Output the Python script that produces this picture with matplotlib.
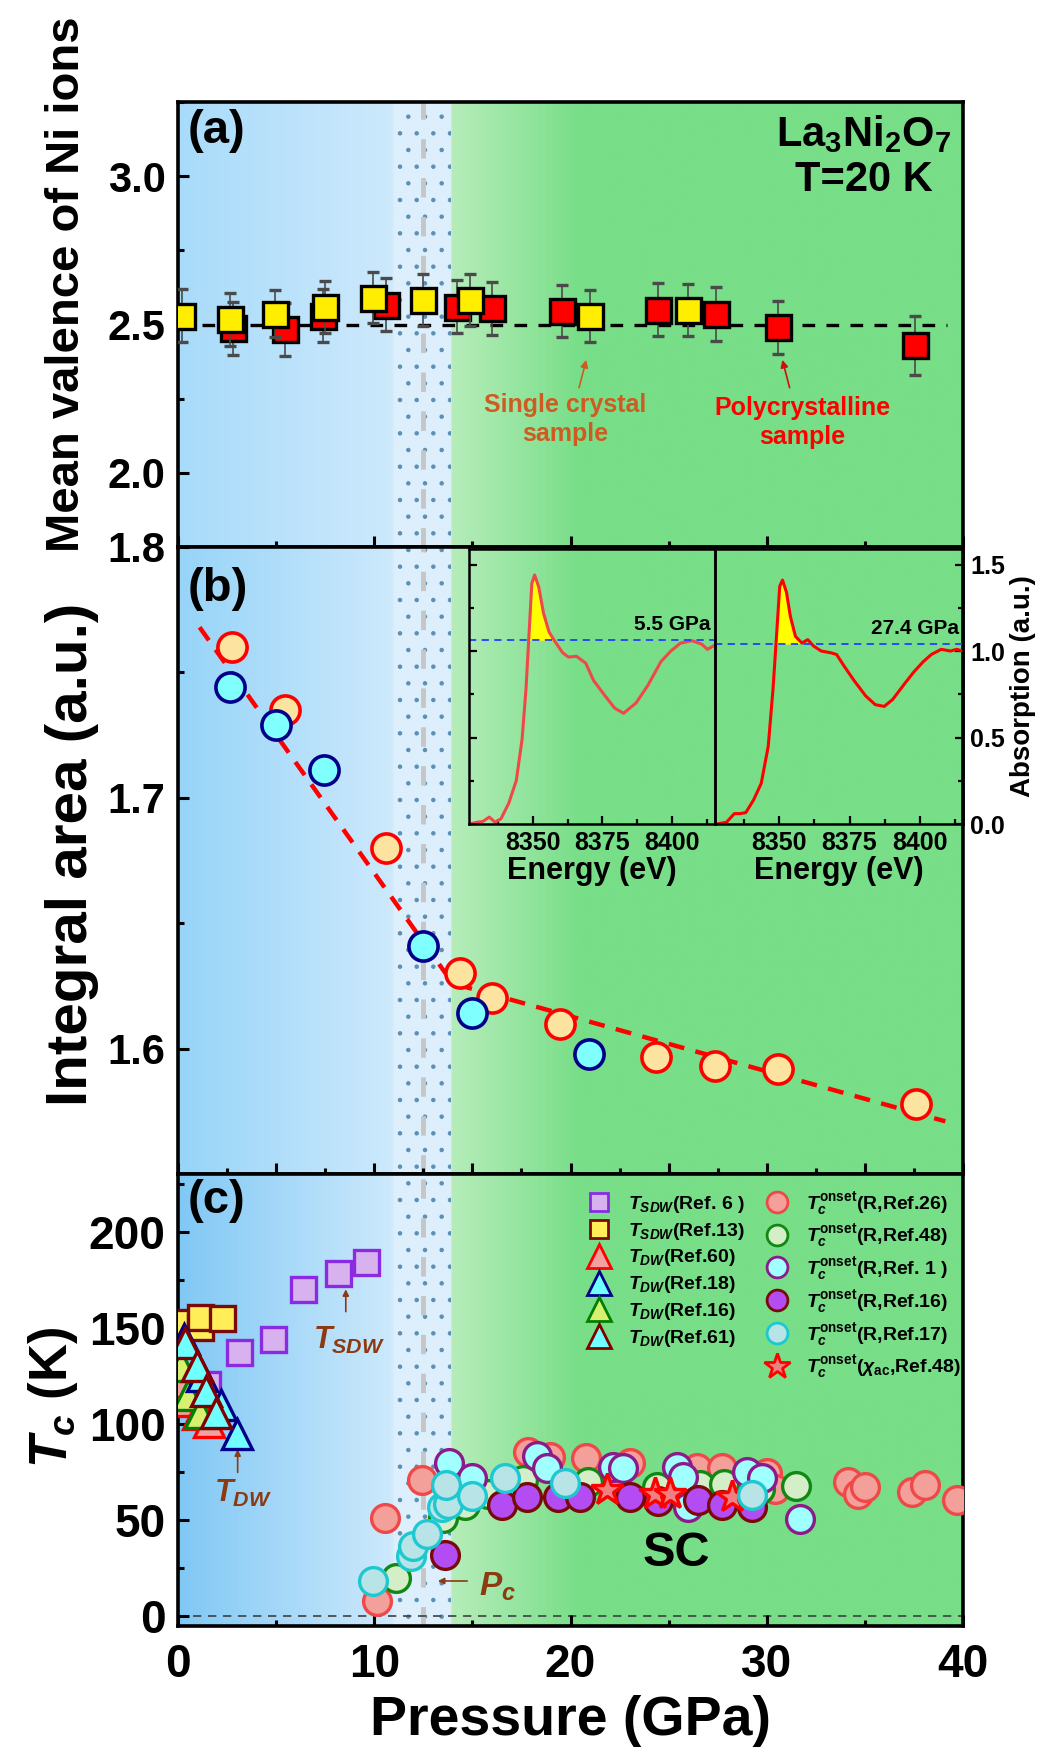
import numpy as np
import matplotlib
matplotlib.use("Agg")
import matplotlib.pyplot as plt
from matplotlib.lines import Line2D
from matplotlib.ticker import MultipleLocator

plt.rcParams['font.family'] = ['Liberation Sans', 'DejaVu Sans']
plt.rcParams['font.weight'] = 'bold'
plt.rcParams['axes.labelweight'] = 'bold'
plt.rcParams['mathtext.fontset'] = 'custom'
plt.rcParams['mathtext.rm'] = 'Liberation Sans:bold'
plt.rcParams['mathtext.it'] = 'Liberation Sans:italic:bold'
plt.rcParams['mathtext.bf'] = 'Liberation Sans:bold'
plt.rcParams['mathtext.sf'] = 'Liberation Sans:bold'
plt.rcParams['hatch.linewidth'] = 0.8

# ---------------- (a) mean valence of Ni, T = 20 K
p_single = [0.2, 2.65, 4.96, 7.49, 9.95, 12.47, 14.9, 21.0, 26.0]
v_single = [2.53, 2.517, 2.537, 2.56, 2.59, 2.582, 2.582, 2.528, 2.55]
e_single = [0.09, 0.09, 0.08, 0.087, 0.086, 0.088, 0.088, 0.088, 0.088]
p_poly = [2.8, 5.45, 7.4, 10.6, 14.2, 16.0, 19.55, 24.45, 27.4, 30.56, 37.55]
v_poly = [2.487, 2.484, 2.53, 2.567, 2.56, 2.554, 2.546, 2.55, 2.537, 2.49, 2.43]
e_poly = [0.09, 0.09, 0.09, 0.089, 0.089, 0.089, 0.088, 0.09, 0.091, 0.088, 0.1]

# ---------------- (b) integral area of the white line
p_area1 = [2.76, 5.46, 10.58, 14.37, 15.98, 19.47, 24.36, 27.36, 30.56, 37.6]
a_area1 = [1.760, 1.735, 1.680, 1.630, 1.620, 1.610, 1.5965, 1.593, 1.5917, 1.578]
p_area2 = [2.65, 4.97, 7.42, 12.47, 14.96, 20.96]
a_area2 = [1.744, 1.729, 1.711, 1.641, 1.614, 1.598]
p_fit = [1.1, 14.0, 39.1]
a_fit = [1.768, 1.626, 1.571]

# inset XANES spectra
e_55 = [8327, 8330, 8332, 8334.3, 8336.4, 8338.5, 8341.3, 8344, 8346.1, 8347.5,
        8348.5, 8349.6, 8350.6, 8352.1, 8353.8, 8355.8, 8357.9, 8360.7, 8362.8,
        8365.6, 8369, 8371.8, 8376, 8379.4, 8382.6, 8387.1, 8391.3, 8396.1,
        8399.6, 8403.1, 8407.2, 8410.7, 8412.8, 8415]
mu_55 = [0.0, 0.01, 0.015, 0.04, 0.01, 0.03, 0.12, 0.25, 0.49, 0.78, 1.07, 1.39,
         1.44, 1.37, 1.22, 1.11, 1.056, 0.99, 0.965, 0.97, 0.93, 0.83, 0.74, 0.67,
         0.64, 0.70, 0.80, 0.94, 1.0, 1.046, 1.06, 1.04, 1.01, 1.03]
e_274 = [8327.7, 8331.1, 8333.9, 8336, 8338, 8340.8, 8343.5, 8346, 8347.7, 8348.8,
         8350.1, 8351.1, 8352.5, 8353.9, 8355.7, 8358, 8360.1, 8362.1, 8364.9,
         8368.3, 8370.4, 8373.2, 8376.6, 8380.8, 8384.2, 8387.4, 8390.4, 8394.6,
         8398, 8401.4, 8404.2, 8407.7, 8411.1, 8413.2, 8415.5]
mu_274 = [0.0, 0.01, 0.06, 0.06, 0.066, 0.14, 0.235, 0.45, 0.78, 1.05, 1.375, 1.41,
          1.34, 1.2, 1.085, 1.046, 1.066, 1.03, 1.0, 0.99, 0.98, 0.91, 0.83, 0.74,
          0.69, 0.68, 0.72, 0.81, 0.88, 0.94, 0.98, 1.01, 1.0, 1.01, 1.0]
level_55 = 1.062
level_274 = 1.04

# ---------------- (c) phase diagram
p_sdw6 = [1.5, 3.1, 4.84, 6.37, 8.15, 9.6]
t_sdw6 = [121, 137.7, 144, 170.4, 178.3, 184.3]
p_sdw13 = [0.17, 1.1, 1.1, 2.26]
t_sdw13 = [153, 150.4, 155.6, 155]
p_dw60 = [0.15, 0.5, 1.0, 1.6]
t_dw60 = [122, 112, 105, 101]
p_dw18 = [0.3, 1.2, 2.2, 3.0]
t_dw18 = [144, 125, 110, 95]
p_dw16 = [0.15, 0.5, 1.1]
t_dw16 = [130, 115, 106]
p_dw61 = [0.35, 0.95, 1.45, 1.95]
t_dw61 = [142, 130, 117, 106]

p_r26 = [10.16, 10.55, 12.45, 17.85, 18.96, 20.79, 23.03, 26.43, 27.7, 30.0, 30.4,
         34.16, 34.67, 35.0, 37.38, 38.06, 39.68]
t_r26 = [7.9, 51, 70.8, 85.3, 83, 82.2, 80, 76.9, 77.3, 74.3, 66.4, 69.9, 63.8,
         67.3, 64.7, 68.2, 60.3]
p_r48 = [11.1, 13.5, 14.6, 15.8, 17.6, 20.9, 24.39, 26.6, 27.8, 29.65, 31.49]
t_r48 = [20.1, 51, 58, 63.8, 70.8, 70, 67.3, 68.2, 69, 66.4, 67.8]
p_r1 = [13.82, 14.96, 18.27, 18.78, 22.18, 22.66, 25.41, 25.75, 26.0, 28.98, 29.74, 31.7]
t_r1 = [79.5, 71.7, 83.6, 77.3, 77.8, 77.3, 77.8, 72.6, 56.8, 75.2, 71.7, 50.7]
p_r16 = [13.6, 16.5, 17.8, 19.38, 20.49, 23.03, 24.48, 26.5, 27.7, 29.23]
t_r16 = [31.8, 58, 62, 62, 62, 62, 59.8, 60.3, 57.7, 56.8]
p_r17 = [9.95, 11.86, 11.96, 12.67, 13.44, 13.77, 13.66, 14.96, 16.66, 19.72, 29.23]
t_r17 = [18.4, 31.5, 36.7, 42.8, 56.8, 58.6, 68.5, 62.6, 71.7, 69.6, 62.9]
p_chi48 = [21.88, 24.3, 25.07, 28.21]
t_chi48 = [65.6, 63.8, 63.8, 62]

labels_left = [r'$T_{SDW}$(Ref. 6 )', r'$T_{SDW}$(Ref.13)', r'$T_{DW}$(Ref.60)',
               r'$T_{DW}$(Ref.18)', r'$T_{DW}$(Ref.16)', r'$T_{DW}$(Ref.61)']
labels_right = [r'$T_c^{\mathrm{onset}}$(R,Ref.26)', r'$T_c^{\mathrm{onset}}$(R,Ref.48)',
                r'$T_c^{\mathrm{onset}}$(R,Ref. 1 )', r'$T_c^{\mathrm{onset}}$(R,Ref.16)',
                r'$T_c^{\mathrm{onset}}$(R,Ref.17)',
                r'$T_c^{\mathrm{onset}}$($\chi_{\mathrm{ac}}$,Ref.48)']

# ---------------- figure
W, H = 1044, 1753
fig = plt.figure(figsize=(W / 100, H / 100), dpi=100)
L, WD = 178 / W, 785 / W
axa = fig.add_axes([L, 1 - 547 / H, WD, (547 - 102) / H])
axb = fig.add_axes([L, 1 - 1174 / H, WD, (1174 - 547) / H])
axc = fig.add_axes([L, 1 - 1626 / H, WD, (1626 - 1174) / H])

brown = '#8b3a12'


def background(ax, left_rgb, ylo, yhi):
    p = np.linspace(0, 40, 1200)
    sp = [0, 10.9, 11.0, 13.9, 13.95, 20.5, 40]
    cols = [left_rgb, (205, 233, 252), (221, 239, 252), (221, 239, 252),
            (182, 237, 186), (120, 222, 136), (120, 222, 136)]
    rgb = np.stack([np.interp(p, sp, [c[i] for c in cols]) for i in range(3)], axis=-1) / 255
    ax.imshow(rgb[np.newaxis], extent=[0, 40, ylo, yhi], aspect='auto',
              zorder=0, interpolation='bilinear')
    ax.axvspan(11.0, 13.9, facecolor='none', edgecolor='#5a90b4', hatch='.',
               lw=0, zorder=0.5)
    ax.axvline(12.5, color='#c6c6c6', lw=3.5, ls=(0, (4, 4)), zorder=0.6)
    ax.set_xlim(0, 40)
    ax.set_ylim(ylo, yhi)


def style(ax, lsize=30):
    for s in ax.spines.values():
        s.set_linewidth(2.6)
    ax.tick_params(which='both', direction='in', top=False, right=False, width=2.2,
                   labelsize=lsize, pad=9)
    ax.tick_params(which='major', length=8)
    ax.tick_params(which='minor', length=4.5)


# ---- (a)
background(axa, (168, 219, 250), 1.75, 3.25)
axa.axhline(2.5, xmax=0.98, color='k', lw=2.4, ls=(0, (3.8, 3.4)), zorder=1)
axa.errorbar(p_poly, v_poly, yerr=e_poly, fmt='s', ms=18, mfc='red', mec='k', mew=2.4,
             ecolor='#4a4a4a', elinewidth=1.2, capsize=4, capthick=1.2, zorder=3)
axa.errorbar(p_single, v_single, yerr=e_single, fmt='s', ms=18, mfc='#ffee00', mec='k',
             mew=2.4, ecolor='#4a4a4a', elinewidth=1.2, capsize=4, capthick=1.2, zorder=4)
style(axa)
axa.xaxis.set_major_locator(MultipleLocator(10))
axa.xaxis.set_minor_locator(MultipleLocator(5))
axa.set_xticklabels([])
axa.set_yticks([2.0, 2.5, 3.0])
axa.yaxis.set_minor_locator(MultipleLocator(0.25))
axa.set_ylabel('Mean valence of Ni ions', fontsize=34)
axa.yaxis.set_label_coords(-0.113, 0.59)
axa.text(0.012, 0.985, '(a)', transform=axa.transAxes, fontsize=34, ha='left', va='top')
axa.text(0.874, 0.928, r'La$_3$Ni$_2$O$_7$', transform=axa.transAxes, fontsize=30,
         ha='center', va='center')
axa.text(0.874, 0.825, 'T=20 K', transform=axa.transAxes, fontsize=30,
         ha='center', va='center')
axa.text(19.75, 2.18, 'Single crystal\nsample', color='#cf5b22', fontsize=18,
         ha='center', va='center', linespacing=1.3)
axa.annotate('', xy=(20.84, 2.39), xytext=(20.4, 2.278),
             arrowprops=dict(arrowstyle='-|>', color='#cf5b22', lw=1.2, mutation_scale=11))
axa.text(31.8, 2.17, 'Polycrystalline\nsample', color='red', fontsize=18,
         ha='center', va='center', linespacing=1.3)
axa.annotate('', xy=(30.76, 2.39), xytext=(31.2, 2.278),
             arrowprops=dict(arrowstyle='-|>', color='#d01010', lw=1.2, mutation_scale=11))

# ---- (b)
background(axb, (150, 212, 248), 1.55, 1.8)
axb.plot(p_fit, a_fit, color='red', lw=3.2, ls=(0, (3.6, 2.6)), zorder=2)
axb.plot(p_area1, a_area1, 'o', ms=21, mfc='#fde3a0', mec='red', mew=2.6, zorder=3)
axb.plot(p_area2, a_area2, 'o', ms=21, mfc='#80ffff', mec='#00008b', mew=2.6, zorder=4)
style(axb)
axb.xaxis.set_major_locator(MultipleLocator(5))
axb.xaxis.set_minor_locator(MultipleLocator(2.5))
axb.set_xticklabels([])
axb.set_yticks([1.6, 1.7, 1.8])
axb.set_yticklabels(['1.6', '1.7', '1.8'])
axb.yaxis.set_minor_locator(MultipleLocator(0.05))
axb.set_ylabel('Integral area (a.u.)', fontsize=42)
axb.yaxis.set_label_coords(-0.10, 0.509)
axb.text(0.012, 0.968, '(b)', transform=axb.transAxes, fontsize=34, ha='left', va='top')

# inset
ins1 = fig.add_axes([469 / W, 1 - 824 / H, 246 / W, (824 - 549) / H])
ins2 = fig.add_axes([715 / W, 1 - 824 / H, 248 / W, (824 - 549) / H])
for ins, e, mu, lev, col, lab in [(ins1, e_55, mu_55, level_55, '#f04848', '5.5 GPa'),
                                  (ins2, e_274, mu_274, level_274, 'red', '27.4 GPa')]:
    ins.set_facecolor('none')
    e = np.array(e)
    mu = np.array(mu)
    ins.fill_between(e, mu, lev, where=(mu > lev) & (e < 8357), interpolate=True,
                     color='#ffff00', lw=0, zorder=1)
    ins.plot(e, mu, color=col, lw=2.2, zorder=2)
    ins.axhline(lev, color='#2040ff', lw=1.3, ls=(0, (4, 3)), zorder=2)
    ins.set_xlim(8327, 8415.5)
    ins.set_ylim(0, 1.59)
    ins.set_xticks([8350, 8375, 8400])
    ins.xaxis.set_minor_locator(MultipleLocator(12.5))
    ins.yaxis.set_major_locator(MultipleLocator(0.5))
    ins.yaxis.set_minor_locator(MultipleLocator(0.25))
    for s in ins.spines.values():
        s.set_linewidth(1.8)
    ins.tick_params(which='both', direction='in', width=1.6, labelsize=18, pad=5)
    ins.tick_params(which='major', length=6)
    ins.tick_params(which='minor', length=3.5)
    ins.set_xlabel('Energy (eV)', fontsize=22, labelpad=1)
    ins.text(8414, lev + 0.09, lab, fontsize=15, ha='right', va='center')
ins1.tick_params(axis='y', which='both', left=True, right=False, labelleft=False)
ins2.tick_params(axis='y', which='both', left=False, right=True, labelleft=False,
                 labelright=True)
ins2.yaxis.set_label_position('right')
ins2.set_yticks([0.0, 0.5, 1.0, 1.5])
ins2.set_yticklabels(['0.0', '0.5', '1.0', '1.5'])
ins2.set_ylabel('Absorption (a.u.)', fontsize=20, labelpad=4)

# ---- (c)
background(axc, (128, 200, 245), -5, 230)
axc.axhline(0, color='#404040', lw=1.2, ls=(0, (5, 4)), zorder=1)

sty = {}
sty['sdw6'] = dict(marker='s', mfc='#d7b2ee', mec='#8a2be2')
sty['sdw13'] = dict(marker='s', mfc='#ffee58', mec='#7a0a0a')
sty['dw60'] = dict(marker='^', mfc='#f4a0a0', mec='red')
sty['dw18'] = dict(marker='^', mfc='#70ffff', mec='#00008b')
sty['dw16'] = dict(marker='^', mfc='#d8f070', mec='#008000')
sty['dw61'] = dict(marker='^', mfc='#70ffff', mec='#800000')
sty['r26'] = dict(marker='o', mfc='#f4a09a', mec='#f04848')
sty['r48'] = dict(marker='o', mfc='#d4efc8', mec='#118811')
sty['r1'] = dict(marker='o', mfc='#a0ffff', mec='#8b1a8b')
sty['r16'] = dict(marker='o', mfc='#b44cf4', mec='#7a0a0a')
sty['r17'] = dict(marker='o', mfc='#b8e4e8', mec='#1ec8d0')
sty['chi48'] = dict(marker='*', mfc='#f08080', mec='red')
size = {'s': 18, '^': 22, 'o': 20, '*': 24}
lsize = {'s': 13, '^': 17, 'o': 15, '*': 19}

plot_order = [('sdw6', p_sdw6, t_sdw6), ('sdw13', p_sdw13, t_sdw13),
              ('dw60', p_dw60, t_dw60), ('dw16', p_dw16, t_dw16),
              ('dw18', p_dw18, t_dw18), ('dw61', p_dw61, t_dw61),
              ('r26', p_r26, t_r26), ('r48', p_r48, t_r48), ('r1', p_r1, t_r1),
              ('r16', p_r16, t_r16), ('chi48', p_chi48, t_chi48), ('r17', p_r17, t_r17)]
for z, (key, p, t) in enumerate(plot_order):
    s = sty[key]
    axc.plot(p, t, ls='none', ms=size[s['marker']], mew=2.4, zorder=3 + z * 0.01, **s)

keys = ['sdw6', 'sdw13', 'dw60', 'dw18', 'dw16', 'dw61',
        'r26', 'r48', 'r1', 'r16', 'r17', 'chi48']
handles = [Line2D([], [], ls='none', ms=lsize[sty[k]['marker']], mew=2.0, **sty[k])
           for k in keys]
axc.legend(handles, labels_left + labels_right, ncol=2, loc='upper right',
           bbox_to_anchor=(0.997, 0.965), frameon=False, fontsize=14,
           handlelength=1.0, handletextpad=1.0, columnspacing=1.15,
           labelspacing=0.3, borderaxespad=0, borderpad=0)

axc.text(8.7, 143.7, r'$T_{SDW}$', color=brown, fontsize=22, ha='center', va='center')
axc.annotate('', xy=(8.55, 171.5), xytext=(8.55, 157),
             arrowprops=dict(arrowstyle='-|>', color=brown, lw=1.2, mutation_scale=9))
axc.text(3.29, 63.7, r'$T_{DW}$', color=brown, fontsize=22, ha='center', va='center')
axc.annotate('', xy=(3.04, 88.3), xytext=(3.04, 73.4),
             arrowprops=dict(arrowstyle='-|>', color=brown, lw=1.2, mutation_scale=9))
axc.text(16.3, 15.2, r'$P_c$', color=brown, fontsize=24, ha='center', va='center')
axc.annotate('', xy=(13.1, 18.4), xytext=(14.88, 18.4),
             arrowprops=dict(arrowstyle='-|>', color=brown, lw=1.2, mutation_scale=9))
axc.text(25.37, 32.6, 'SC', fontsize=35, ha='center', va='center')
axc.text(0.012, 0.99, '(c)', transform=axc.transAxes, fontsize=34, ha='left', va='top')

style(axc, lsize=33)
axc.tick_params(axis='x', pad=12)
axc.set_xticks([0, 10, 20, 30, 40])
axc.set_xticklabels(['0', '10', '20', '30', '40'])
axc.xaxis.set_minor_locator(MultipleLocator(5))
axc.set_yticks([0, 50, 100, 150, 200])
axc.set_yticklabels(['0', '50', '100', '150', '200'])
axc.yaxis.set_minor_locator(MultipleLocator(25))
axc.set_ylabel(r'$T_c$ (K)', fontsize=38)
axc.yaxis.set_label_coords(-0.125, 0.507)
axc.set_xlabel('Pressure (GPa)', fontsize=40, labelpad=6)

fig.savefig('out.png', dpi=100)
